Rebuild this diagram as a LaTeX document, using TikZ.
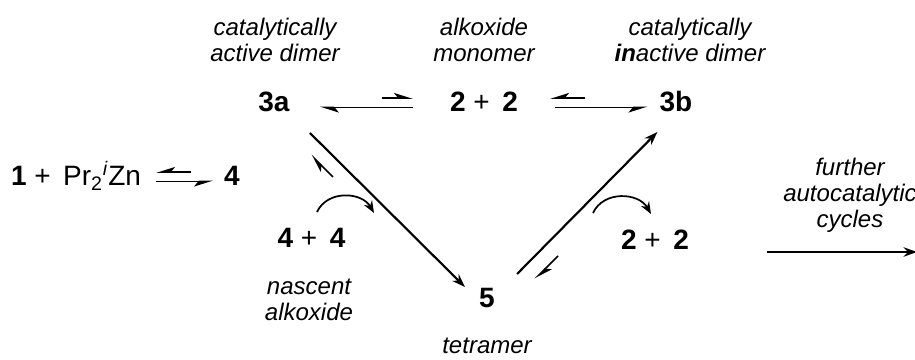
\documentclass[tikz,border=0pt]{standalone}
\usepackage{fontspec}
\setmainfont{Liberation Sans}
\usetikzlibrary{arrows.meta,calc}

\begin{document}
\begin{tikzpicture}[x=0.75pt, y=0.75pt,
    cpd/.style={anchor=base, inner sep=0pt, font=\fontsize{21}{25}\selectfont},
    note/.style={inner sep=0pt, align=center, font=\itshape\fontsize{18}{19.5}\selectfont},
    rxn/.style={line width=1.6pt, -{Stealth[length=10pt, width=7pt]}},
    curv/.style={line width=1.3pt, -{Stealth[length=9pt, width=7pt]}},
    harp/.style={line width=1.3pt, -{Stealth[harpoon, length=12pt, width=7.5pt, inset=3pt]}},
    harpsw/.style={line width=1.3pt, -{Stealth[harpoon, swap, length=12pt, width=7.5pt, inset=3pt]}}]
    \useasboundingbox (0,0) rectangle (915,360);

    % Labels above
    \node[note] (actlbl) at (275,320) {catalytically\\active dimer};
    \node[note] (monolbl) at (484,320) {alkoxide\\monomer};
    \node[note] (inactlbl) at (690,320) {catalytically\\\textbf{in}active dimer};

    % Species
    \node[cpd] (dimA) at (274,248) {\textbf{3a}};
    \node[cpd] (mono) at (484,248) {\textbf{2} + \,\textbf{2}};
    \node[cpd] (dimB) at (676,248) {\textbf{3b}};
    \node[cpd] (start) at (76,174) {\textbf{1} + \,Pr\textsubscript{2}\textsuperscript{\textit{i}}Zn};
    \node[cpd] (four) at (232,174) {\textbf{4}};
    \node[cpd] (nasc) at (311.5,112) {\textbf{4} + \,\textbf{4}};
    \node[cpd] (tetra) at (487,52) {\textbf{5}};
    \node[cpd] (freed) at (655,110) {\textbf{2} + \,\textbf{2}};

    % Labels below
    \node[note] (nasclbl) at (309,60) {nascent\\alkoxide};
    \node[note, anchor=base] (tetralbl) at (487,6) {tetramer};
    \node[note] (furtherlbl) at (850,165) {further\\autocatalytic\\cycles};

    % Equilibria
    \draw[harpsw] ([shift={(15,4.5)}]start.base east) -- ([shift={(-11,4.5)}]four.base west);
    \draw[harpsw] ([shift={(50,14)}]start.base east) -- ([shift={(15,14)}]start.base east);
    \draw[harp] ([shift={(-37,4.5)}]mono.base west) -- ([shift={(30,4.5)}]dimA.base east);
    \draw[harp] ([shift={(-68,14)}]mono.base west) -- ([shift={(-37,14)}]mono.base west);
    \draw[harpsw] ([shift={(67,14)}]mono.base east) -- ([shift={(32,14)}]mono.base east);
    \draw[harpsw] ([shift={(37,4.5)}]mono.base east) -- ([shift={(-12,4.5)}]dimB.base west);

    % Tetramer formation and break-up
    \draw[rxn] ([shift={(20,-21)}]dimA.base east) -- ([shift={(-14,21)}]tetra.base west);
    \draw[rxn] ([shift={(22,34)}]tetra.base east) -- ([shift={(-2,-20)}]dimB.base west);
    \coordinate (b1) at (333,183);
    \coordinate (b2) at (311,205);
    \draw[harp] (b1) -- (b2);
    \coordinate (b3) at (558,104);
    \coordinate (b4) at (535,81);
    \draw[harp] (b3) -- (b4);

    % Curly arrows
    \coordinate (c1) at (317,148);
    \coordinate (c2) at (374,147);
    \draw[curv] (c1) to[out=65, in=120, looseness=1.1] (c2);
    \coordinate (c3) at (593,147);
    \coordinate (c4) at (651,146);
    \draw[curv] (c3) to[out=65, in=120, looseness=1.1] (c4);

    % Onward
    \coordinate (fa) at (767,108);
    \coordinate (fb) at (917,108);
    \draw[rxn] (fa) -- (fb);
\end{tikzpicture}
\end{document}
